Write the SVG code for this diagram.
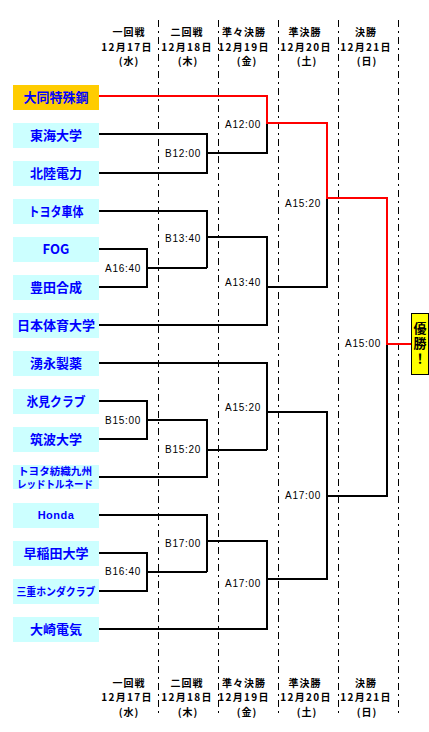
<svg xmlns="http://www.w3.org/2000/svg" width="429" height="732" viewBox="0 0 429 732">
<style>
.bg{fill:#ffffff}
.grid{stroke:#000;stroke-width:1;stroke-dasharray:7 4 2 4;fill:none}
.hdr{font-family:"Noto Sans CJK JP","Noto Sans",sans-serif;font-weight:bold;font-size:10px;fill:#000;text-anchor:middle;letter-spacing:1px}
.dt{letter-spacing:1.3px}
.team rect{fill:#ccffff}
.team text{font-family:"Noto Sans CJK JP","Noto Sans",sans-serif;font-weight:bold;font-size:13px;fill:#0000ff;text-anchor:middle}
.lbl{font-family:"Liberation Sans",Arial,sans-serif;font-size:10px;fill:#000;text-anchor:middle;letter-spacing:0.7px}
.ln{fill:none;stroke:#000;stroke-width:2}
.red{fill:none;stroke:#ff0000;stroke-width:2}
</style>
<rect class="bg" x="0" y="0" width="429" height="732"/>
<g id="grid">
<line class="grid" x1="158.5" y1="20" x2="158.5" y2="716"/>
<line class="grid" x1="218.5" y1="20" x2="218.5" y2="716"/>
<line class="grid" x1="278.5" y1="20" x2="278.5" y2="716"/>
<line class="grid" x1="338.5" y1="20" x2="338.5" y2="716"/>
<line class="grid" x1="398.5" y1="20" x2="398.5" y2="716"/>
</g>
<g id="header-top">
<text class="hdr" x="129" y="36.3">一回戦</text>
<text class="hdr" x="187" y="36.3">二回戦</text>
<text class="hdr" x="244" y="36.3">準々決勝</text>
<text class="hdr" x="305" y="36.3">準決勝</text>
<text class="hdr" x="366" y="36.3">決勝</text>
<text class="hdr dt" x="127" y="50.8">12月17日</text>
<text class="hdr dt" x="187" y="50.8">12月18日</text>
<text class="hdr dt" x="244" y="50.8">12月19日</text>
<text class="hdr dt" x="306" y="50.8">12月20日</text>
<text class="hdr dt" x="366" y="50.8">12月21日</text>
<text class="hdr" x="129" y="65.3">(水)</text>
<text class="hdr" x="188" y="65.3">(木)</text>
<text class="hdr" x="247" y="65.3">(金)</text>
<text class="hdr" x="307" y="65.3">(土)</text>
<text class="hdr" x="367" y="65.3">(日)</text>
</g>
<g id="header-bottom">
<text class="hdr" x="129" y="686.8">一回戦</text>
<text class="hdr" x="187" y="686.8">二回戦</text>
<text class="hdr" x="244" y="686.8">準々決勝</text>
<text class="hdr" x="305" y="686.8">準決勝</text>
<text class="hdr" x="366" y="686.8">決勝</text>
<text class="hdr dt" x="127" y="701.3">12月17日</text>
<text class="hdr dt" x="187" y="701.3">12月18日</text>
<text class="hdr dt" x="244" y="701.3">12月19日</text>
<text class="hdr dt" x="306" y="701.3">12月20日</text>
<text class="hdr dt" x="366" y="701.3">12月21日</text>
<text class="hdr" x="129" y="715.8">(水)</text>
<text class="hdr" x="188" y="715.8">(木)</text>
<text class="hdr" x="247" y="715.8">(金)</text>
<text class="hdr" x="307" y="715.8">(土)</text>
<text class="hdr" x="367" y="715.8">(日)</text>
</g>
<g id="connectors">
<polyline class="ln" points="99,134 207,134 207,173 99,173"/>
<polyline class="ln" points="207,153 267,153 267,123"/>
<polyline class="ln" points="99,249 147,249 147,287 99,287"/>
<polyline class="ln" points="147,268 207,268"/>
<polyline class="ln" points="99,211 207,211 207,268"/>
<polyline class="ln" points="207,237 267,237 267,325 99,325"/>
<polyline class="ln" points="267,287 327,287 327,198"/>
<polyline class="ln" points="99,363 267,363 267,450"/>
<polyline class="ln" points="99,401 147,401 147,439 99,439"/>
<polyline class="ln" points="147,420 207,420 207,477 99,477"/>
<polyline class="ln" points="207,450 267,450"/>
<polyline class="ln" points="267,412 327,412 327,579 267,579"/>
<polyline class="ln" points="99,515 207,515 207,572"/>
<polyline class="ln" points="99,553 147,553 147,591 99,591"/>
<polyline class="ln" points="147,572 207,572"/>
<polyline class="ln" points="207,541 267,541 267,629 99,629"/>
<polyline class="ln" points="327,496 387,496 387,344"/>
<polyline class="red" points="99,96 267,96 267,123 327,123 327,198 387,198 387,344 411,344"/>
</g>
<g id="match-labels">
<text class="lbl" x="243" y="127.5">A12:00</text>
<text class="lbl" x="183" y="156.5">B12:00</text>
<text class="lbl" x="303" y="206.5">A15:20</text>
<text class="lbl" x="183" y="241.5">B13:40</text>
<text class="lbl" x="123" y="271.5">A16:40</text>
<text class="lbl" x="243" y="285.5">A13:40</text>
<text class="lbl" x="363" y="346.5">A15:00</text>
<text class="lbl" x="243" y="410.5">A15:20</text>
<text class="lbl" x="123" y="423.5">B15:00</text>
<text class="lbl" x="183" y="452.5">B15:20</text>
<text class="lbl" x="303" y="498.5">A17:00</text>
<text class="lbl" x="183" y="546.5">B17:00</text>
<text class="lbl" x="123" y="574.5">B16:40</text>
<text class="lbl" x="243" y="586.5">A17:00</text>
</g>
<g id="team-daido" class="team"><rect x="13" y="85" width="86" height="25" style="fill:#ffcc00"/><text x="56" y="102">大同特殊鋼</text></g>
<g id="team-tokai" class="team"><rect x="13" y="123" width="86" height="25"/><text x="56" y="140">東海大学</text></g>
<g id="team-hokuriku" class="team"><rect x="13" y="161" width="86" height="25"/><text x="56" y="178">北陸電力</text></g>
<g id="team-toyotashatai" class="team"><rect x="13" y="199" width="86" height="25"/><text x="56" y="216" textLength="55" lengthAdjust="spacingAndGlyphs">トヨタ車体</text></g>
<g id="team-fog" class="team"><rect x="13" y="237" width="86" height="25"/><text x="56" y="254">FOG</text></g>
<g id="team-toyodagosei" class="team"><rect x="13" y="275" width="86" height="25"/><text x="56" y="292">豊田合成</text></g>
<g id="team-nittai" class="team"><rect x="13" y="313" width="86" height="25"/><text x="56" y="330">日本体育大学</text></g>
<g id="team-wakunaga" class="team"><rect x="13" y="351" width="86" height="25"/><text x="56" y="368">湧永製薬</text></g>
<g id="team-himi" class="team"><rect x="13" y="389" width="86" height="25"/><text x="56" y="406" textLength="59" lengthAdjust="spacingAndGlyphs">氷見クラブ</text></g>
<g id="team-tsukuba" class="team"><rect x="13" y="427" width="86" height="25"/><text x="56" y="444">筑波大学</text></g>
<g id="team-toyotaboshoku" class="team"><rect x="13" y="465" width="86" height="24"/><text x="55" y="474.5" style="font-size:10.5px"><tspan textLength="74" lengthAdjust="spacingAndGlyphs">トヨタ紡織九州</tspan><tspan x="55" dy="13.5" textLength="76" lengthAdjust="spacingAndGlyphs">レッドトルネード</tspan></text></g>
<g id="team-honda" class="team"><rect x="13" y="503" width="86" height="25"/><text x="56" y="519" style="font-family:'Liberation Sans',Arial,sans-serif;font-size:11px;letter-spacing:0.5px">Honda</text></g>
<g id="team-waseda" class="team"><rect x="13" y="541" width="86" height="25"/><text x="56" y="558">早稲田大学</text></g>
<g id="team-miehonda" class="team"><rect x="13" y="579" width="86" height="25"/><text x="56" y="595.5" style="font-size:11px" textLength="79" lengthAdjust="spacingAndGlyphs">三重ホンダクラブ</text></g>
<g id="team-osaki" class="team"><rect x="13" y="617" width="86" height="25"/><text x="56" y="634">大崎電気</text></g>
<g id="winner"><rect x="411.5" y="313.5" width="17" height="61" fill="#ffff00" stroke="#000" stroke-width="1"/>
<text x="420" y="344" writing-mode="vertical-rl" style="font-family:'Noto Sans CJK JP',sans-serif;font-weight:bold;font-size:13px;text-anchor:middle;letter-spacing:2px;fill:#000">優勝！</text>
</g>
</svg>
